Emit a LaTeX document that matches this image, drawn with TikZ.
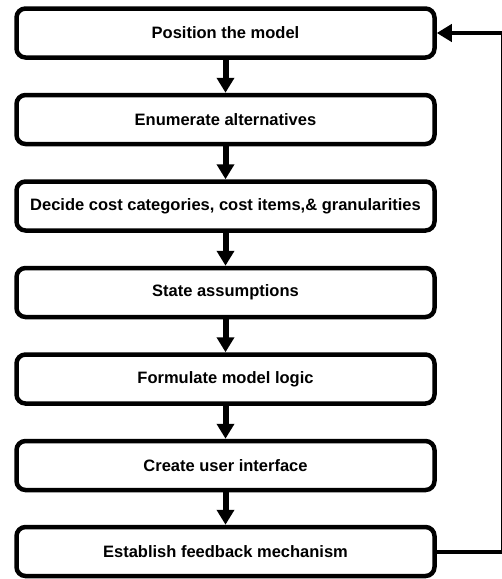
\documentclass[tikz,border=0pt]{standalone}
\usepackage{fontspec}
\setmainfont{Liberation Sans}
\usetikzlibrary{arrows.meta}
\begin{document}
\begin{tikzpicture}[x=1pt,y=-1pt,
  stepbox/.style={draw=black,line width=4.5pt,rounded corners=9pt,fill=white,
    minimum width=418pt,minimum height=49pt,inner sep=0pt,
    font=\fontsize{16.5}{19}\selectfont\bfseries},
  flow/.style={line width=6pt,-{Triangle[width=17pt,length=15pt]}}]
\useasboundingbox (0,0) rectangle (502,579);
\fill[white] (0,0) rectangle (502,579);
\node[stepbox] (b1) at (225.5,33) {Position the model};
\node[stepbox] (b2) at (225.5,119.5) {Enumerate alternatives};
\node[stepbox] (b3) at (225.5,206) {Decide cost categories, cost items,\& granularities};
\node[stepbox] (b4) at (225.5,292.5) {State assumptions};
\node[stepbox] (b5) at (225.5,379) {Formulate model logic};
\node[stepbox] (b6) at (225.5,465.5) {Create user interface};
\node[stepbox] (b7) at (225.5,551.5) {Establish feedback mechanism};
\draw[flow] (b1) -- (b2);
\draw[flow] (b2) -- (b3);
\draw[flow] (b3) -- (b4);
\draw[flow] (b4) -- (b5);
\draw[flow] (b5) -- (b6);
\draw[flow] (b6) -- (b7);
\coordinate (c1) at (502,551.5);
\coordinate (c2) at (502,33);
\draw[line width=4pt] (b7.east) -- (c1);
\draw[line width=3pt] (c1) -- (c2);
\draw[flow,line width=4pt] (c2) -- (b1.east);
\end{tikzpicture}
\end{document}
